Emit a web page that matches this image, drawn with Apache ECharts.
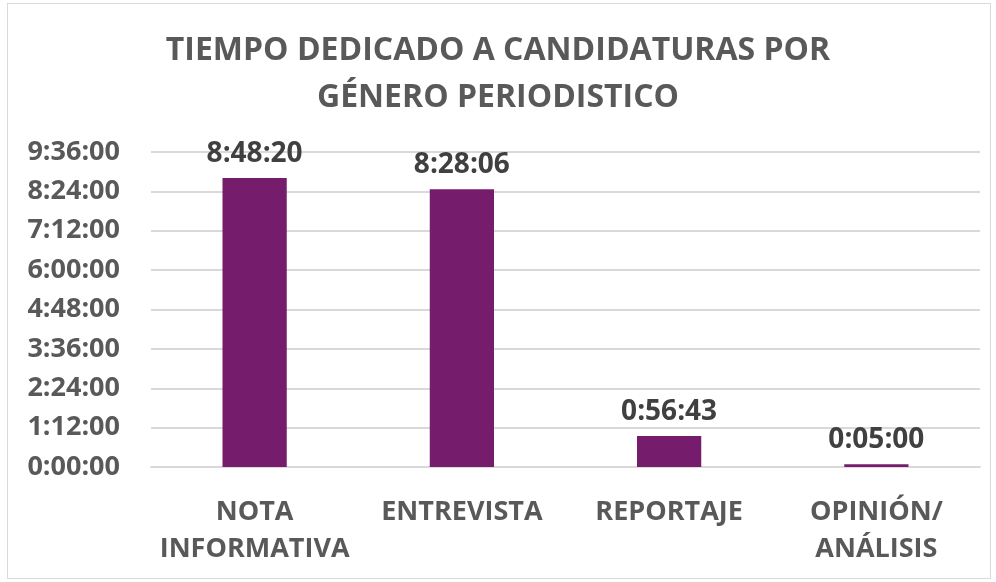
<!DOCTYPE html>
<html>
<head>
<meta charset="utf-8">
<title>Tiempo dedicado a candidaturas</title>
<script src="https://cdn.jsdelivr.net/npm/echarts@6/dist/echarts.min.js"></script>
<style>
  html, body { margin: 0; padding: 0; background: #fff; }
  #frame { position: absolute; left: 7px; top: 3px; width: 982px; height: 574px; border: 1px solid #d9d9d9; }
  #chart { position: absolute; left: 0; top: 0; width: 996px; height: 582px; }
</style>
</head>
<body>
<div id="frame"></div>
<div id="chart"></div>
<script>
// categorias y segundos dedicados
var categorias = ['NOTA\nINFORMATIVA', 'ENTREVISTA', 'REPORTAJE', 'OPINIÓN/\nANÁLISIS'];
var segundos = [31700, 30486, 3403, 300];   // 8:48:20, 8:28:06, 0:56:43, 0:05:00

function hms(s) {
  var h = Math.floor(s / 3600);
  var m = Math.floor((s % 3600) / 60);
  var sec = s % 60;
  return h + ':' + (m < 10 ? '0' : '') + m + ':' + (sec < 10 ? '0' : '') + sec;
}

var fuente = '"Open Sans", sans-serif';
var chart = echarts.init(document.getElementById('chart'));
chart.setOption({
  animation: false,
  title: {
    text: 'TIEMPO DEDICADO A CANDIDATURAS POR\nGÉNERO PERIODISTICO',
    left: 'center',
    top: 22,
    textStyle: { fontFamily: fuente, fontSize: 32, fontWeight: 'bold', color: '#595959', lineHeight: 47 }
  },
  grid: { left: 151, right: 16, top: 152, bottom: 115 },
  xAxis: {
    type: 'category',
    data: categorias,
    axisLine: { show: true, lineStyle: { color: '#d9d9d9', width: 2 } },
    axisTick: { show: false },
    axisLabel: { interval: 0, fontFamily: fuente, fontSize: 27, fontWeight: 'bold', color: '#595959', margin: 27, lineHeight: 37 }
  },
  yAxis: {
    type: 'value',
    min: 0,
    max: 34560,
    interval: 4320,
    axisLine: { show: false },
    axisTick: { show: false },
    splitLine: { lineStyle: { color: '#d9d9d9', width: 2 } },
    axisLabel: { fontFamily: fuente, fontSize: 27, fontWeight: 'bold', color: '#595959', margin: 31, formatter: hms }
  },
  series: [{
    type: 'bar',
    data: segundos,
    barWidth: '31%',
    itemStyle: { color: '#761C6C' },
    label: {
      show: true,
      position: 'top',
      distance: 10,
      fontFamily: fuente, fontSize: 28, fontWeight: 'bold', color: '#404040',
      formatter: function (p) { return hms(p.value); }
    }
  }]
});
</script>
</body>
</html>
